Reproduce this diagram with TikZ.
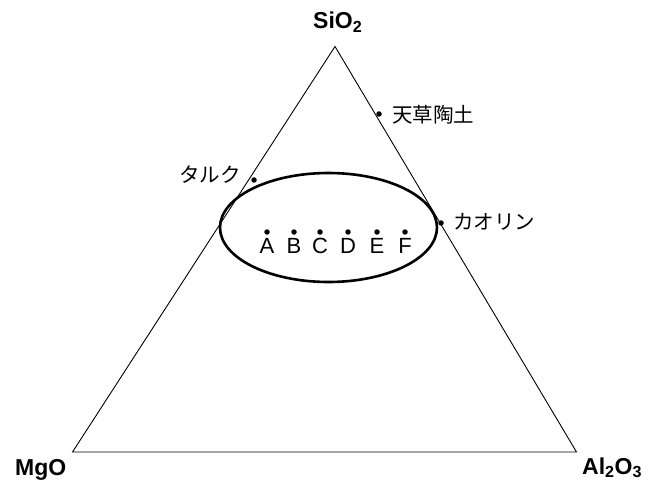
\documentclass[tikz,border=0pt]{standalone}
\usepackage{fontspec}
\usetikzlibrary{shapes.geometric}
\setmainfont{Liberation Sans}
\newfontfamily\jpfont{Noto Sans CJK JP}
\begin{document}
\begin{tikzpicture}[x=1pt,y=-1pt,
  vertex/.style={font=\fontsize{23}{23}\selectfont\bfseries, inner sep=0pt, anchor=base west},
  jplabel/.style={font=\jpfont\fontsize{20.5}{20.5}\selectfont, inner sep=0pt, anchor=west},
  sample/.style={font=\fontsize{22}{22}\selectfont, inner sep=0pt, anchor=base},
  dot/.style={circle, fill=black, inner sep=0pt, minimum size=5.5pt},
  edge/.style={line width=0.9pt},
  region/.style={line width=2.6pt}]
\useasboundingbox (0,0) rectangle (659,484);
\coordinate (top) at (335,46.5);
\coordinate (left) at (72.5,452);
\coordinate (right) at (576.5,452);
\draw[edge, line join=miter] (top) -- (left) -- (right) -- cycle;
\node[region, draw, ellipse, minimum width=217pt, minimum height=109pt, inner sep=0pt] (oval) at (328.5,227.5) {};
\node[vertex] (si) at (313,29) {SiO\textsubscript{2}};
\node[vertex] (mg) at (15,475) {MgO};
\node[vertex] (al) at (582,474) {Al\textsubscript{2}O\textsubscript{3}};
\node[dot] (d1) at (379,114) {};
\node[jplabel] (amakusa) at (392,115) {天草陶土};
\node[dot] (d2) at (254,180) {};
\node[jplabel] (talc) at (179,175) {タルク};
\node[dot] (d3) at (441,223) {};
\node[jplabel] (kaolin) at (453,222) {カオリン};
\foreach \x/\l in {267/A,294/B,320/C,348/D,377/E,405/F}{
  \node[dot] (p\l) at (\x,232) {};
  \node[sample] (t\l) at (\x,253) {\l};
}
\end{tikzpicture}
\end{document}
